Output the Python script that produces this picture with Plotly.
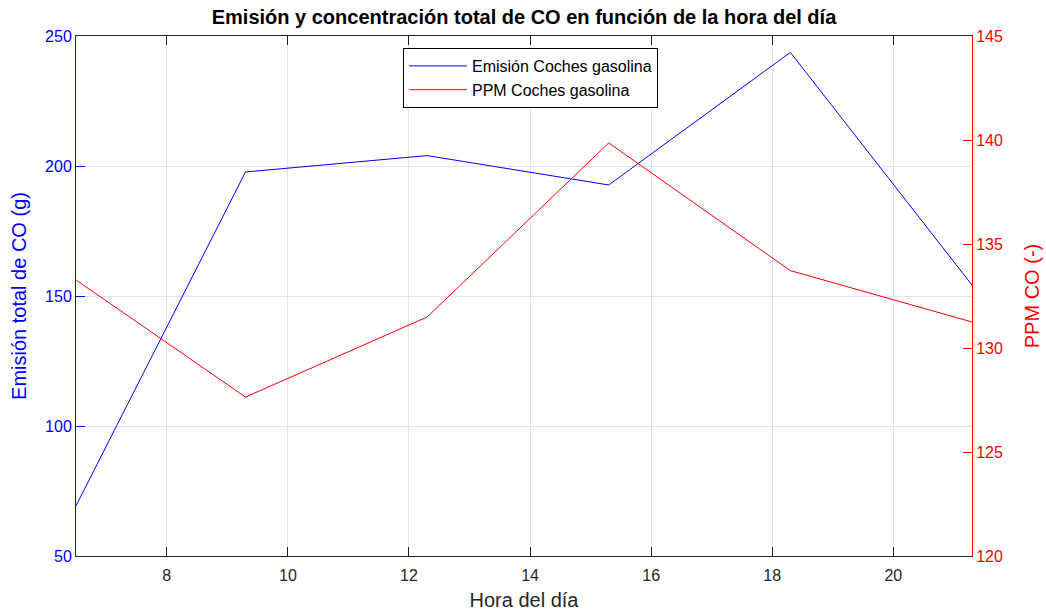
import plotly.graph_objects as go

hora = [6.5, 9.3, 12.3, 15.3, 18.3, 21.3]
emision = [69.3, 197.7, 204.0, 192.7, 243.7, 154.2]
ppm = [133.27, 127.64, 131.49, 139.86, 133.72, 131.25]

x_ticks = [8, 10, 12, 14, 16, 18, 20]
y1_ticks = [50, 100, 150, 200, 250]
y2_ticks = [120, 125, 130, 135, 140, 145]

FONT = "Liberation Sans, Arial, Helvetica, sans-serif"
DARK = "#262626"

fig = go.Figure()
fig.add_trace(go.Scatter(x=hora, y=emision, mode="lines", name="Emisión Coches gasolina",
                         line=dict(color="#0000ff", width=1), yaxis="y"))
fig.add_trace(go.Scatter(x=hora, y=ppm, mode="lines", name="PPM Coches gasolina",
                         line=dict(color="#ff0000", width=1), yaxis="y2"))

fig.update_layout(
    width=1046, height=613,
    margin=dict(l=76, r=74, t=36, b=57),
    paper_bgcolor="white", plot_bgcolor="white",
    font=dict(family=FONT, size=16, color=DARK),
    title=dict(text="<b>Emisión y concentración total de CO en función de la hora del día</b>",
               x=0.5, xanchor="center", xref="paper", y=1 - 17 / 613, yanchor="middle",
               font=dict(size=20, color="black", family=FONT)),
    xaxis=dict(range=[6.5, 21.3], tickvals=x_ticks, ticktext=[str(v) for v in x_ticks],
               ticks="inside", ticklen=9, tickcolor=DARK, showline=True, linecolor=DARK,
               linewidth=1, mirror="ticks", showgrid=True, gridcolor="#e3e3e3", gridwidth=1,
               zeroline=False, tickfont=dict(size=16, color=DARK), ticklabelstandoff=5,
               automargin=False,
               title=dict(text="Hora del día", font=dict(size=20, color=DARK), standoff=9)),
    yaxis=dict(range=[50, 250], tickvals=y1_ticks, ticks="inside", ticklen=9,
               tickcolor="#0000ff", showline=True, linecolor="#0000ff", linewidth=1,
               showgrid=True, gridcolor="#e2e2f4", gridwidth=1, zeroline=False,
               tickfont=dict(size=16, color="#0000ff"), automargin=False,
               title=dict(text="Emisión total de CO (g)", font=dict(size=20, color="#0000ff"), standoff=13)),
    yaxis2=dict(range=[120, 145], tickvals=y2_ticks, ticks="inside", ticklen=9,
                tickcolor="#ff0000", showline=True, linecolor="#ff0000", linewidth=1,
                overlaying="y", side="right", showgrid=False, zeroline=False,
                tickfont=dict(size=16, color="#ff0000"), automargin=False,
                title=dict(text="PPM CO (-)", font=dict(size=20, color="#ff0000"), standoff=23)),
    legend=dict(x=(403 - 76) / 896, y=(556 - 48) / 520, xanchor="left", yanchor="top",
                bgcolor="white", bordercolor="black", borderwidth=1,
                font=dict(size=16, color="black"), tracegroupgap=0,
                itemwidth=58),
    showlegend=True,
)

fig.write_html("out.html")
